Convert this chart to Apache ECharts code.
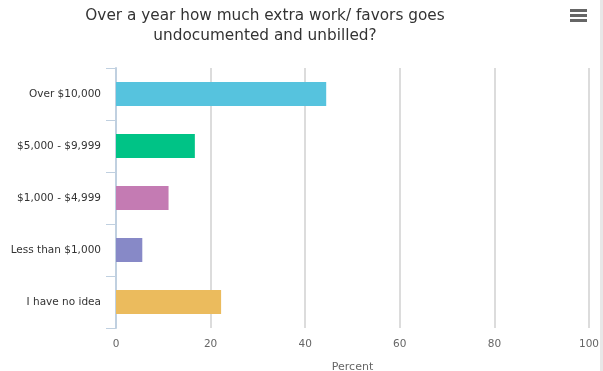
<!DOCTYPE html>
<html>
<head>
<meta charset="utf-8">
<script src="https://cdn.jsdelivr.net/npm/echarts@6/dist/echarts.min.js"></script>
<style>html,body{margin:0;padding:0;background:#fff}#c{width:603px;height:371px}</style>
</head>
<body>
<div id="c"></div>
<script>
var titleText = "Over a year how much extra work/ favors goes\nundocumented and unbilled?";
var categories = ["Over $10,000", "$5,000 - $9,999", "$1,000 - $4,999", "Less than $1,000", "I have no idea"];
var values = [44.44, 16.67, 11.11, 5.56, 22.22];
var barColors = ["#56c3de", "#00c386", "#c47bb3", "#8789c7", "#ebbb5d"];
var xTicks = [0, 20, 40, 60, 80, 100];
var xName = "Percent";

var FONT = "DejaVu Sans, sans-serif";
var chart = echarts.init(document.getElementById('c'), null, {renderer: 'canvas'});
chart.setOption({
  animation: false,
  title: {
    text: titleText,
    left: 260, top: 1, textAlign: 'center',
    textStyle: {fontFamily: FONT, fontSize: 15.3, fontWeight: 'normal', color: '#333333', lineHeight: 20}
  },
  grid: {left: 116, right: 14, top: 68, bottom: 43, containLabel: false, outerBoundsMode: 'none'},
  xAxis: {
    type: 'value', min: xTicks[0], max: xTicks[xTicks.length - 1], interval: 20,
    name: xName, nameLocation: 'middle', nameGap: 34,
    nameTextStyle: {fontFamily: FONT, fontSize: 11, color: '#666666'},
    axisLine: {show: false}, axisTick: {show: false},
    axisLabel: {fontFamily: FONT, fontSize: 10.5, color: '#666666', margin: 11},
    splitLine: {show: true, lineStyle: {color: '#dcdcdc', width: 2}, showMinLine: false}
  },
  yAxis: {
    type: 'category', data: categories, inverse: true,
    axisLine: {show: true, lineStyle: {color: '#c0d0e0', width: 2}},
    axisTick: {show: true, length: 10, lineStyle: {color: '#c0d0e0', width: 1}},
    axisLabel: {fontFamily: FONT, fontSize: 10.5, color: '#333333', margin: 15}
  },
  series: [{
    type: 'bar', barWidth: 24,
    data: values.map(function (v, i) { return {value: v, itemStyle: {color: barColors[i]}}; })
  }],
  graphic: [
    {type: 'rect', shape: {x: 570, y: 9, width: 17, height: 3}, style: {fill: '#666666'}},
    {type: 'rect', shape: {x: 570, y: 14, width: 17, height: 3}, style: {fill: '#666666'}},
    {type: 'rect', shape: {x: 570, y: 19, width: 17, height: 3}, style: {fill: '#666666'}},
    {type: 'rect', shape: {x: 600, y: 0, width: 3, height: 371}, style: {fill: '#e8e8e8'}}
  ]
});
</script>
</body>
</html>
